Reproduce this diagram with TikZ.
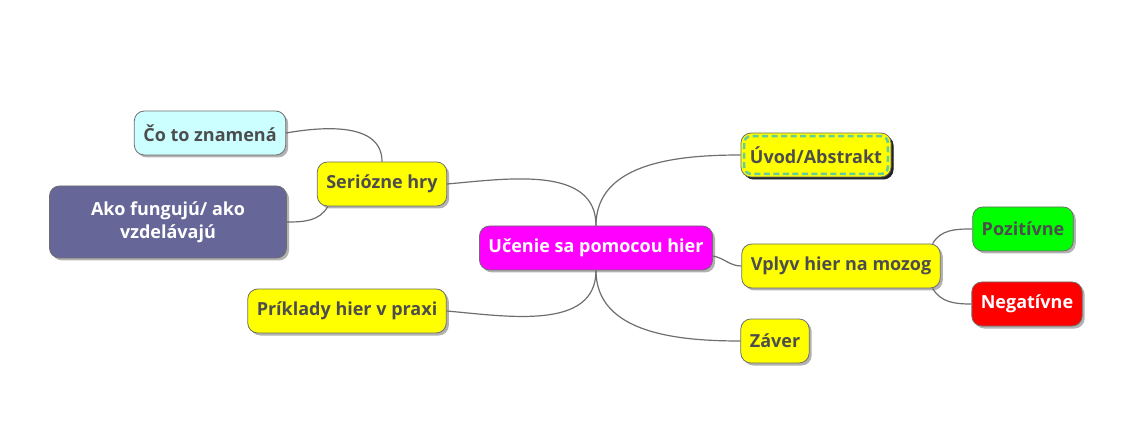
\documentclass[tikz,border=0pt]{standalone}
\usepackage{fontspec}
\setmainfont{Open Sans}
\usetikzlibrary{shadows}
\definecolor{txtgray}{RGB}{77,77,77}
\definecolor{edgegray}{RGB}{110,110,110}
\definecolor{dashteal}{RGB}{102,204,153}
\definecolor{lightcyan}{RGB}{204,255,255}
\definecolor{slatepurple}{RGB}{102,102,153}
\definecolor{hotmagenta}{RGB}{255,0,255}
\definecolor{brightyellow}{RGB}{255,255,0}
\definecolor{brightgreen}{RGB}{0,255,0}
\definecolor{brightred}{RGB}{255,0,0}

\begin{document}
\begin{tikzpicture}[x=1pt,y=1pt,
	topic/.style={draw=edgegray,line width=0.8pt,rounded corners=10pt,minimum height=44pt,inner xsep=9pt,
		font=\fontsize{18}{23}\selectfont\bfseries,text=txtgray,
		drop shadow={shadow xshift=2.5pt,shadow yshift=-2.5pt,fill=black,opacity=0.3}},
	link/.style={edgegray,line width=1.2pt}]
	\useasboundingbox (0,0) rectangle (1141,445);
	% nodes
	\node[topic,fill=hotmagenta,text=white] (center) at (596,197) {Učenie sa pomocou hier};
	\node[topic,fill=brightyellow,drop shadow={shadow xshift=2.5pt,shadow yshift=-2.5pt,fill=black,opacity=0.8}] (uvod) at (816,290) {Úvod/Abstrakt};
	\node[topic,fill=brightyellow] (vplyv) at (841,179) {Vplyv hier na mozog};
	\node[topic,fill=brightyellow] (zaver) at (775,104) {Záver};
	\node[topic,fill=brightyellow] (serio) at (382,261) {Seriózne hry};
	\node[topic,fill=brightyellow] (priklady) at (347,134) {Príklady hier v praxi};
	\node[topic,fill=lightcyan] (coto) at (210,312) {Čo to znamená};
	\node[topic,fill=slatepurple,text=white,minimum width=237pt,minimum height=72pt,align=center] (ako) at (168,223) {Ako fungujú/ ako\\vzdelávajú};
	\node[topic,fill=brightgreen] (pozit) at (1023,216) {Pozitívne};
	\node[topic,fill=brightred,text=white] (negat) at (1027,141) {Negatívne};
	\draw[dashteal,line width=2.6pt,dash pattern=on 6pt off 3.5pt,rounded corners=7pt]
		([shift={(3.5pt,-3.5pt)}]uvod.north west) rectangle ([shift={(-3.5pt,3.5pt)}]uvod.south east);
	% connectors
	\draw[link] (center.north) to[out=90,in=180] (uvod.west);
	\draw[link] (serio.east) to[out=5,in=90] (center.north);
	\draw[link] ([yshift=-8pt]center.east) to[out=-10,in=180] (vplyv.west);
	\draw[link] (center.south) to[out=-90,in=180] (zaver.west);
	\draw[link] (priklady.east) to[out=-5,in=-90] (center.south);
	\draw[link] (serio.north) to[out=90,in=10] (coto.east);
	\draw[link] ([xshift=11pt]serio.south west) to[out=-120,in=0] (ako.east);
	\draw[link] ([xshift=-8pt]vplyv.north east) to[out=60,in=180] (pozit.west);
	\draw[link] ([xshift=-8pt]vplyv.south east) to[out=-60,in=180] (negat.west);
\end{tikzpicture}
\end{document}
